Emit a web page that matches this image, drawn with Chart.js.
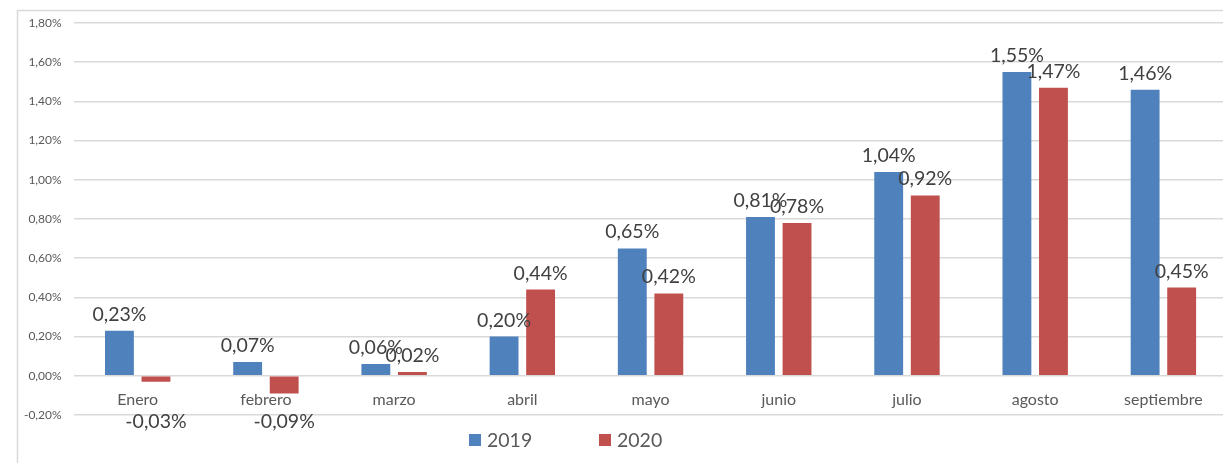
<!DOCTYPE html>
<html>
<head>
<meta charset="utf-8">
<script src="https://cdn.jsdelivr.net/npm/chart.js@4/dist/chart.umd.min.js"></script>
<style>
  html, body { margin: 0; padding: 0; background: #fff; overflow: hidden; }
  #wrap { width: 1223px; height: 463px; overflow: hidden; }
</style>
</head>
<body>
<div id="wrap"><canvas id="myChart" width="1240" height="463"></canvas></div>
<script>
// Mois (axe des catégories)
const mois = ['Enero', 'febrero', 'marzo', 'abril', 'mayo', 'junio', 'julio', 'agosto', 'septiembre'];
// Variation mensuelle en %
const valeurs2019 = [0.23, 0.07, 0.06, 0.20, 0.65, 0.81, 1.04, 1.55, 1.46];
const valeurs2020 = [-0.03, -0.09, 0.02, 0.44, 0.42, 0.78, 0.92, 1.47, 0.45];
const series = ['2019', '2020'];

const bleu = '#4F81BD';
const rouge = '#C0504D';
const police = 'Lato, "DejaVu Sans", sans-serif';

// format 0,23%
const fmt = v => v.toFixed(2).replace('.', ',') + '%';

// cadre du graphique (bord gris en haut et à gauche)
const cadre = {
    id: 'cadre',
    beforeDraw(chart) {
        const c = chart.ctx;
        c.save();
        c.fillStyle = '#fff';
        c.fillRect(0, 0, chart.width, chart.height);
        c.strokeStyle = '#D9D9D9';
        c.lineWidth = 1.5;
        c.strokeRect(17.5, 10.5, chart.width + 20, chart.height + 20);
        c.restore();
    }
};

// étiquettes de valeur au-dessus (ou en dessous) des barres
const etiquettes = {
    id: 'etiquettes',
    afterDatasetsDraw(chart) {
        const c = chart.ctx;
        const y = chart.scales.y;
        c.save();
        c.font = '19.5px ' + police;
        c.fillStyle = '#404040';
        c.textAlign = 'center';
        c.textBaseline = 'alphabetic';
        chart.data.datasets.forEach((ds, i) => {
            chart.getDatasetMeta(i).data.forEach((bar, j) => {
                const v = ds.data[j];
                const yy = v >= 0 ? bar.y - 10 : y.getPixelForValue(-0.2) + 13;
                c.fillText(fmt(v), bar.x, yy);
            });
        });
        c.restore();
    }
};

// légende en bas
const legende = {
    id: 'legende',
    afterDraw(chart) {
        const c = chart.ctx;
        const pos = [469, 599];
        c.save();
        c.font = '19.5px ' + police;
        c.textBaseline = 'alphabetic';
        chart.data.datasets.forEach((ds, i) => {
            c.fillStyle = ds.backgroundColor;
            c.fillRect(pos[i], 434, 12, 12);
            c.fillStyle = '#595959';
            c.fillText(ds.label, pos[i] + 18, 447);
        });
        c.restore();
    }
};

const ctx = document.getElementById('myChart').getContext('2d');
const myChart = new Chart(ctx, {
    type: 'bar',
    data: {
        labels: mois,
        datasets: [
            { label: series[0], data: valeurs2019, backgroundColor: bleu },
            { label: series[1], data: valeurs2020, backgroundColor: rouge }
        ]
    },
    options: {
        responsive: false,
        animation: false,
        devicePixelRatio: 1,
        categoryPercentage: 0.57,
        barPercentage: 0.79,
        layout: { padding: { left: 17, top: 23, right: 12.5, bottom: 48 } },
        plugins: {
            legend: { display: false },
            tooltip: { enabled: false }
        },
        scales: {
            x: {
                position: { y: 0 },
                grid: { display: false },
                border: { display: false },
                ticks: {
                    color: '#595959',
                    font: { family: police, size: 16 },
                    padding: 6,
                    maxRotation: 0,
                    autoSkip: false
                }
            },
            y: {
                min: -0.2,
                max: 1.8,
                afterFit: s => { s.width = 56.6; },
                grid: { color: '#D9D9D9', lineWidth: 1.5, drawTicks: false },
                border: { display: false },
                ticks: {
                    stepSize: 0.2,
                    padding: 12,
                    color: '#595959',
                    font: { family: police, size: 12 },
                    callback: v => fmt(v)
                }
            }
        }
    },
    plugins: [cadre, etiquettes, legende]
});
</script>
</body>
</html>
